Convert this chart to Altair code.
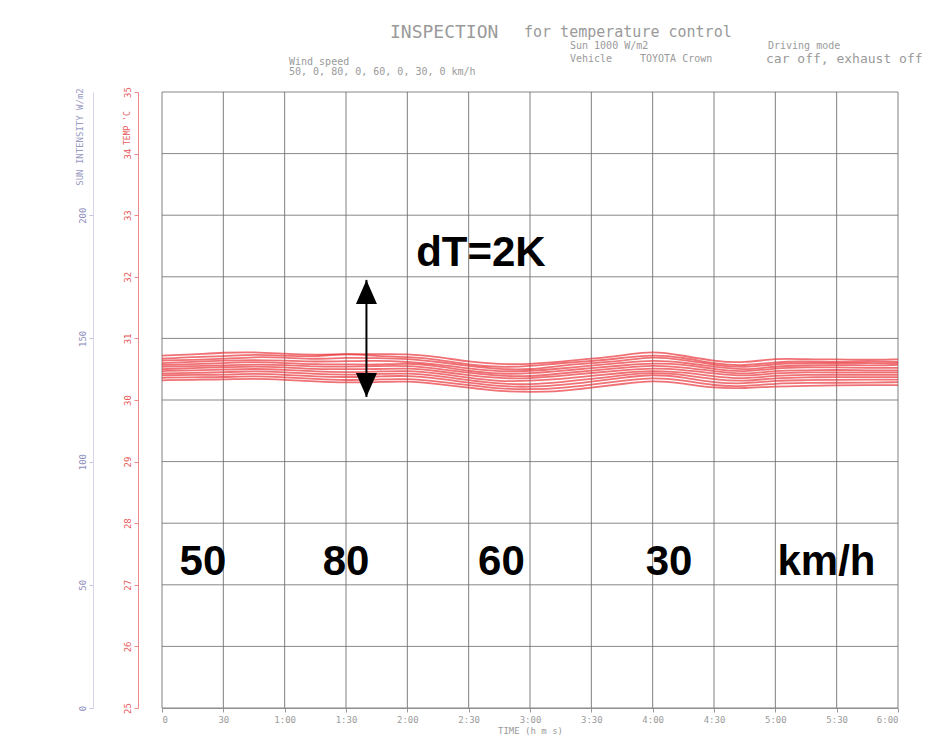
import altair as alt
import pandas as pd

# ---------------- data ----------------
TIME_MIN = [0, 15, 30, 45, 60, 75, 90, 105, 120, 135, 150, 165, 180,
            195, 210, 225, 240, 255, 270, 285, 300, 315, 330, 345, 360]

TEMP_LINES = [
    [30.72, 30.74, 30.77, 30.78, 30.75, 30.73, 30.75, 30.74, 30.75, 30.70, 30.62, 30.58, 30.58, 30.62, 30.67, 30.72, 30.80, 30.72, 30.63, 30.60, 30.68, 30.66, 30.66, 30.65, 30.66],
    [30.67, 30.70, 30.71, 30.74, 30.72, 30.70, 30.76, 30.71, 30.70, 30.66, 30.57, 30.53, 30.55, 30.60, 30.63, 30.68, 30.74, 30.69, 30.59, 30.55, 30.62, 30.63, 30.61, 30.63, 30.62],
    [30.64, 30.65, 30.67, 30.70, 30.69, 30.66, 30.69, 30.68, 30.67, 30.62, 30.55, 30.50, 30.49, 30.56, 30.60, 30.63, 30.71, 30.65, 30.57, 30.52, 30.59, 30.60, 30.59, 30.60, 30.60],
    [30.60, 30.62, 30.64, 30.65, 30.64, 30.62, 30.63, 30.64, 30.62, 30.58, 30.51, 30.46, 30.47, 30.51, 30.56, 30.60, 30.65, 30.61, 30.54, 30.48, 30.55, 30.56, 30.57, 30.56, 30.57],
    [30.57, 30.58, 30.60, 30.62, 30.60, 30.58, 30.58, 30.57, 30.60, 30.55, 30.47, 30.42, 30.43, 30.47, 30.52, 30.56, 30.60, 30.58, 30.50, 30.45, 30.52, 30.53, 30.53, 30.52, 30.52],
    [30.54, 30.55, 30.56, 30.58, 30.57, 30.54, 30.54, 30.55, 30.56, 30.51, 30.44, 30.39, 30.38, 30.43, 30.48, 30.52, 30.57, 30.53, 30.47, 30.41, 30.48, 30.48, 30.49, 30.48, 30.48],
    [30.50, 30.52, 30.53, 30.55, 30.53, 30.50, 30.50, 30.50, 30.52, 30.47, 30.40, 30.35, 30.35, 30.39, 30.44, 30.48, 30.52, 30.49, 30.43, 30.38, 30.44, 30.45, 30.45, 30.45, 30.45],
    [30.47, 30.48, 30.49, 30.51, 30.49, 30.46, 30.45, 30.46, 30.48, 30.43, 30.36, 30.30, 30.31, 30.34, 30.39, 30.44, 30.48, 30.45, 30.38, 30.34, 30.40, 30.41, 30.41, 30.41, 30.41],
    [30.43, 30.44, 30.45, 30.47, 30.45, 30.42, 30.41, 30.42, 30.44, 30.39, 30.32, 30.26, 30.25, 30.29, 30.34, 30.40, 30.45, 30.41, 30.33, 30.30, 30.36, 30.37, 30.37, 30.37, 30.37],
    [30.40, 30.41, 30.41, 30.43, 30.41, 30.38, 30.37, 30.38, 30.40, 30.35, 30.28, 30.22, 30.21, 30.24, 30.30, 30.36, 30.42, 30.37, 30.28, 30.26, 30.32, 30.32, 30.33, 30.33, 30.33],
    [30.36, 30.37, 30.37, 30.39, 30.37, 30.34, 30.32, 30.33, 30.35, 30.30, 30.24, 30.18, 30.17, 30.19, 30.25, 30.31, 30.37, 30.32, 30.23, 30.22, 30.27, 30.28, 30.28, 30.28, 30.29],
    [30.32, 30.33, 30.33, 30.35, 30.33, 30.30, 30.28, 30.29, 30.31, 30.26, 30.20, 30.14, 30.13, 30.14, 30.20, 30.26, 30.32, 30.27, 30.19, 30.19, 30.22, 30.23, 30.24, 30.24, 30.24],
]

TIME_TICKS = [0, 30, 60, 90, 120, 150, 180, 210, 240, 270, 300, 330, 360]
TIME_TICK_LABELS = ["0", "30", "1:00", "1:30", "2:00", "2:30", "3:00",
                    "3:30", "4:00", "4:30", "5:00", "5:30", "6:00"]
TEMP_TICKS = [25, 26, 27, 28, 29, 30, 31, 32, 33, 34, 35]
SUN_TICKS = [0, 50, 100, 150, 200]

SPEED_TEXT = ["50", "80", "60", "30", "km/h"]
SPEED_TIME = [20, 90, 166, 248, 325]
SPEED_TEMP = [27.37, 27.37, 27.37, 27.37, 27.37]

DT_TEXT = ["dT=2K"]
DT_TIME = [156]
DT_TEMP = [32.39]

ARROW_TIME = [100]
ARROW_TOP = [31.95]
ARROW_BOTTOM = [30.05]

# ---------------- styles ----------------
RED = "#e8353a"
GRID = "#6a6a6a"
GRAYTXT = "#9a9a9a"
MONO = "DejaVu Sans Mono"
BOLD = "Liberation Sans"

xscale = alt.Scale(domain=[0, 360], nice=False, zero=False)
yscale = alt.Scale(domain=[25, 35], nice=False, zero=False)

label_expr = ""
for v, s in zip(TIME_TICKS, TIME_TICK_LABELS):
    label_expr += f"datum.value == {v} ? '{s}' : "
label_expr += "''"

rows = []
for i, line in enumerate(TEMP_LINES):
    for t, v in zip(TIME_MIN, line):
        rows.append({"t": t, "temp": v, "run": i})
df = pd.DataFrame(rows)

xaxis = alt.Axis(
    orient="bottom", values=TIME_TICKS, labelExpr=label_expr, title="TIME (h m s)", grid=False,
    domainColor="#aaaaaa", tickColor="#999999", tickSize=4,
    labelColor=GRAYTXT, labelFont=MONO, labelFontSize=9, labelPadding=3,
    titleFont=MONO, titleFontSize=9, titleFontWeight="normal", titleColor=GRAYTXT,
    titlePadding=2)


def X(field="t"):
    return alt.X(f"{field}:Q", scale=xscale, axis=xaxis)


vgrid = alt.Chart(pd.DataFrame({"t": TIME_TICKS})).mark_rule(
    color=GRID, strokeWidth=1, opacity=0.85
).encode(x=X())

hgrid = alt.Chart(pd.DataFrame({"temp": TEMP_TICKS})).mark_rule(
    color=GRID, strokeWidth=1, opacity=0.8
).encode(y=alt.Y("temp:Q", scale=yscale, axis=None))

lines = alt.Chart(df).mark_line(
    color=RED, strokeWidth=1.8, opacity=0.7, interpolate="basis"
).encode(
    x=X(),
    y=alt.Y("temp:Q", scale=yscale, axis=alt.Axis(
        orient="left", offset=24, values=TEMP_TICKS, format="d", title=None, grid=False,
        domainColor="#f08a8a", tickColor="#f08a8a", tickSize=4,
        labelColor="#e85a5a", labelFont=MONO, labelFontSize=9, labelAngle=270,
        labelAlign="center", labelBaseline="bottom", labelPadding=2)),
    detail="run:N",
)

sun = alt.Chart(pd.DataFrame({"w": SUN_TICKS})).mark_point(opacity=0).encode(
    y=alt.Y("w:Q", scale=alt.Scale(domain=[0, 250], nice=False, zero=True), axis=alt.Axis(
        orient="left", offset=69, values=SUN_TICKS, format="d", title=None,
        domainColor="#d4d4ea", tickColor="#c4c4e0", tickSize=4,
        labelColor="#8c8cbc", labelFont=MONO, labelFontSize=9, labelAngle=270,
        labelAlign="center", labelBaseline="bottom", labelPadding=2, grid=False)),
)

speed = alt.Chart(pd.DataFrame({"t": SPEED_TIME, "temp": SPEED_TEMP, "txt": SPEED_TEXT})).mark_text(
    font=BOLD, fontWeight="bold", fontSize=42, color="black", align="center", baseline="middle"
).encode(
    x=X(),
    y=alt.Y("temp:Q", scale=yscale, axis=None),
    text="txt:N",
)

dt = alt.Chart(pd.DataFrame({"t": DT_TIME, "temp": DT_TEMP, "txt": DT_TEXT})).mark_text(
    font=BOLD, fontWeight="bold", fontSize=42, color="black", align="center", baseline="middle"
).encode(
    x=X(),
    y=alt.Y("temp:Q", scale=yscale, axis=None),
    text="txt:N",
)

arrow_df = pd.DataFrame({"t": ARROW_TIME, "top": ARROW_TOP, "bottom": ARROW_BOTTOM})
shaft = alt.Chart(arrow_df).mark_rule(color="black", strokeWidth=2).encode(
    x=X(),
    y=alt.Y("top:Q", scale=yscale, axis=None),
    y2="bottom:Q",
)
head_up = alt.Chart(arrow_df).mark_point(
    shape="M0,0L-0.875,2L0.875,2Z", filled=True, color="black", opacity=1, size=576
).encode(
    x=X(),
    y=alt.Y("top:Q", scale=yscale, axis=None),
)
head_down = alt.Chart(arrow_df).mark_point(
    shape="M0,0L-0.875,-2L0.875,-2Z", filled=True, color="black", opacity=1, size=576
).encode(
    x=X(),
    y=alt.Y("bottom:Q", scale=yscale, axis=None),
)


def label(text, x, y, size, color=GRAYTXT, angle=0, align="left"):
    return alt.Chart(pd.DataFrame({"a": [0]})).mark_text(
        text=text, font=MONO, fontSize=size, color=color, align=align,
        baseline="middle", angle=angle
    ).encode(x=alt.value(x), y=alt.value(y))


# header texts (plot origin is at page x=162, y=92)
headers = [
    label("INSPECTION", 228, -59, 18),
    label("for temperature control", 362, -60, 15),
    label("Sun 1000 W/m2", 408, -46, 10),
    label("Vehicle", 408, -33, 10),
    label("TOYOTA Crown", 478, -33, 10),
    label("Driving mode", 606, -46, 10),
    label("car off, exhaust off", 604, -33, 13),
    label("Wind speed", 127, -30, 10),
    label("50, 0, 80, 0, 60, 0, 30, 0 km/h", 127, -20, 10),
    label("TEMP 'C", -34, 53, 8, color="#e85a5a", angle=270, align="left"),
    label("SUN INTENSITY  W/m2", -82, 45, 9, color="#9a9ac4", angle=270, align="center"),
]

chart = alt.layer(
    vgrid, hgrid, lines, sun, speed, dt, shaft, head_up, head_down, *headers
).resolve_scale(y="independent").properties(
    width=736, height=616,
    padding={"left": 154, "top": 84, "right": 32, "bottom": 28},
    autosize=alt.AutoSizeParams(type="none"),
    background="white",
).configure_view(stroke=None)

chart.save("out.html", embed_options={"renderer": "svg", "actions": False})
